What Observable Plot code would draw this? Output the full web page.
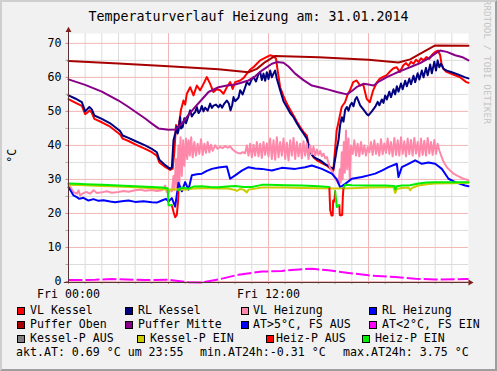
<!DOCTYPE html>
<html><head><meta charset="utf-8">
<script src="https://cdn.jsdelivr.net/npm/d3@7"></script>
<script src="https://cdn.jsdelivr.net/npm/@observablehq/plot@0.6"></script>
<style>
html,body{margin:0;padding:0;background:#f1f1f1;}
#chart{position:relative;width:497px;height:371px;background:#f1f1f1;overflow:hidden;font-family:"DejaVu Sans Mono",monospace;color:#000;}
#shade{position:absolute;left:0;top:0;width:497px;height:371px;box-sizing:border-box;border-left:2px solid #cfcfcf;border-top:2px solid #cfcfcf;border-right:2px solid #9e9e9e;border-bottom:2px solid #9e9e9e;pointer-events:none;}
.t{position:absolute;white-space:pre;line-height:1;}
#title{left:0;width:497px;text-align:center;top:10.3px;font-size:13.3px;}
#ylab{left:-7px;top:150px;width:40px;text-align:center;font-size:11.6px;transform:rotate(-90deg);}
#wm{left:417px;top:56.5px;width:140px;text-align:center;font-size:9.4px;color:#c4c4c4;transform:rotate(90deg);}
.lt{font-size:11.6px;}
.box{position:absolute;width:8px;height:8px;box-sizing:border-box;border:1px solid #000;}
#plot{position:absolute;left:0;top:0;}
</style></head>
<body>
<div id="chart">
<div id="plot"></div>
<div class="t" id="title">Temperaturverlauf Heizung am: 31.01.2014</div>
<div class="t" id="ylab">°C</div>
<div class="t" id="wm">RRDTOOL / TOBI OETIKER</div>
<div id="legend"></div>
<div id="shade"></div>
</div>
<script>
// ---- data: [hour of 31.01.2014, °C] ----
const vlKessel = [[0,53.6],[0.4,52.6],[0.8,51.6],[1.0,49.2],[1.12,49.6],[1.27,50.3],[1.4,49.6],[1.55,47.8],[2.0,46.8],[2.5,45.5],[3.0,43.6],[3.1,43.2],[3.25,42],[3.6,41.3],[4.0,40.3],[4.6,39],[5.0,38],[5.3,37],[5.45,35],[5.8,33.7],[6.1,32.8],[6.25,33.2],[6.35,38],[6.45,46],[6.55,44],[6.65,47],[6.75,50.5],[6.9,53.2],[7.0,52],[7.1,55.2],[7.3,57.1],[7.5,54.7],[7.7,57.6],[7.9,56.2],[8.1,58.1],[8.3,60.1],[8.5,58.1],[8.7,55.7],[8.9,56.5],[9.1,56.2],[9.3,55.2],[9.5,57.1],[9.7,58.6],[9.85,56.6],[10.0,58.6],[10.3,59.1],[10.5,59.8],[10.7,61.1],[10.9,62.3],[11.1,63],[11.3,64],[11.5,65],[11.7,65.5],[11.9,66],[12.1,66.5],[12.3,66.2],[12.45,65.5],[12.55,62],[12.7,57.1],[12.9,54.5],[13.1,52.3],[13.3,50.5],[13.5,48.8],[13.7,47],[13.9,45.4],[14.1,44],[14.3,42.9],[14.4,40.5],[14.5,38.5],[14.7,36.5],[14.9,35.6],[15.2,34.8],[15.5,34.1],[15.7,33.2],[15.89,32.6],[16.09,44.4],[16.25,48],[16.39,51.3],[16.59,52.7],[16.75,55],[16.89,56.2],[17.08,58.6],[17.29,59.1],[17.49,57.6],[17.68,58],[17.89,53.7],[18.08,52.7],[18.28,56.2],[18.5,58.5],[18.68,59.6],[18.9,60.2],[19.08,60.6],[19.3,61.8],[19.48,62.6],[19.68,63],[19.88,61.6],[20.08,63.5],[20.25,64.2],[20.4,63.4],[20.55,64.6],[20.7,64],[20.85,65.2],[21.0,64.5],[21.15,65.6],[21.3,65],[21.48,66],[21.65,65.4],[21.8,66.6],[21.98,67.4],[22.17,67.9],[22.3,66.5],[22.38,64],[22.5,62.5],[22.68,61.6],[23.0,61],[23.47,60.1],[23.87,58.6],[24,58.4]];

const rlKessel = [[0,54.7],[0.4,53.8],[0.8,52.7],[1.0,50.0],[1.1,50.5],[1.25,51.3],[1.4,50.6],[1.55,48.8],[2.0,47.8],[2.5,46.5],[3.0,44.6],[3.1,44.2],[3.25,42.9],[3.6,42.2],[4.0,41.3],[4.6,40.0],[5.0,39.0],[5.3,38.0],[5.45,35.8],[5.8,34.2],[6.1,33.1],[6.2,33.5],[6.3,41.5],[6.4,43.4],[6.5,45.5],[6.55,43.5],[6.6,44.4],[6.7,48.3],[6.75,45.0],[6.85,45.4],[6.95,48.0],[7.05,46.5],[7.2,48.8],[7.3,50.3],[7.4,48.5],[7.5,49.3],[7.6,49.8],[7.7,51.3],[7.8,49.5],[7.9,50.2],[8.0,51.6],[8.1,50.0],[8.2,51.1],[8.35,50.2],[8.5,52.3],[8.6,51.0],[8.7,51.7],[8.85,52.0],[9.0,51.2],[9.1,52.0],[9.22,51.1],[9.35,52.3],[9.5,53.2],[9.62,52.3],[9.72,50.3],[9.82,51.8],[9.9,54.2],[10.0,53.0],[10.2,54.0],[10.3,56.2],[10.45,55.0],[10.6,57.1],[10.7,58.6],[10.85,57.8],[11.0,59.5],[11.1,60.1],[11.25,58.8],[11.4,61.0],[11.5,61.6],[11.6,59.2],[11.7,61.1],[11.8,59.0],[11.9,61.5],[12.0,59.5],[12.1,62.0],[12.2,60.0],[12.3,61.1],[12.4,62.0],[12.5,59.6],[12.7,56.2],[12.9,53.0],[13.1,51.3],[13.3,49.5],[13.5,48.3],[13.7,46.5],[13.9,44.9],[14.1,43.5],[14.3,42.0],[14.45,39.0],[14.6,37.2],[14.8,36.3],[15.1,35.6],[15.4,34.5],[15.7,33.6],[15.9,33.1],[16.0,36.0],[16.1,39.0],[16.2,41.5],[16.3,46.0],[16.4,48.3],[16.5,47.0],[16.6,50.5],[16.7,51.3],[16.8,50.2],[16.9,51.8],[17.0,52.5],[17.1,51.5],[17.2,53.5],[17.3,54.2],[17.4,53.0],[17.5,51.8],[17.7,50.5],[17.9,49.2],[18.0,48.8],[18.2,50.0],[18.4,51.3],[18.55,52.8],[18.65,51.8],[18.8,53.5],[18.9,52.5],[19.0,54.7],[19.1,53.5],[19.25,55.8],[19.35,54.2],[19.5,56.5],[19.6,55.0],[19.7,57.4],[19.8,55.8],[19.95,58.2],[20.05,56.5],[20.2,59.0],[20.3,57.4],[20.45,59.6],[20.55,58.0],[20.7,60.5],[20.8,58.6],[20.95,61.2],[21.05,59.4],[21.2,62.0],[21.3,60.0],[21.45,62.8],[21.55,60.6],[21.7,63.8],[21.8,61.2],[21.95,64.6],[22.05,62.0],[22.15,65.0],[22.25,63.0],[22.35,64.0],[22.5,62.5],[22.7,62.0],[23.0,61.5],[23.4,60.8],[23.8,60.0],[24,59.7]];

const vlHeizung = [[0,28.7],[0.15,27.5],[0.3,26.3],[0.5,25.8],[0.6,26.8],[0.7,25.3],[0.9,26],[1.1,26.3],[1.3,25.8],[1.5,26.8],[1.7,26],[2.0,26.2],[2.3,26.5],[2.6,26.1],[3.0,26.3],[3.3,26.6],[3.6,26.4],[4.0,26.8],[4.3,27],[4.6,26.7],[5.0,26.9],[5.3,26.6],[5.6,26.8],[5.8,28.2],[5.9,26.3],[6.0,26],[6.1,27],[6.2,26.5],[6.3,31],[6.35,26.8],[6.45,36],[6.5,27.5],[6.6,40],[6.65,28],[6.72,42.4],[6.8,31],[6.88,41.5],[6.95,34],[7.05,42],[7.12,36],[7.2,41.5],[7.28,37],[7.36,42.4],[7.45,36.5],[7.55,41],[7.65,37],[7.75,40.5],[7.85,37.5],[7.95,41.8],[8.05,37.2],[8.15,40.5],[8.25,37.8],[8.35,41],[8.45,38],[8.55,40.2],[8.65,38.4],[8.8,40],[8.95,39],[9.1,39.6],[9.25,39.2],[9.4,39.8],[9.55,39.3],[9.7,39.7],[9.85,38.8],[10.0,38.2],[10.15,37.8],[10.3,37.6],[10.45,38],[10.6,37.7],[10.7,40],[10.8,37],[10.9,40.5],[11.0,36.5],[11.1,40.2],[11.2,37],[11.3,41],[11.4,36.8],[11.5,40.5],[11.6,36.3],[11.7,41],[11.8,37.2],[11.9,40.6],[12.0,36.8],[12.1,42],[12.2,36],[12.3,41.5],[12.4,35.8],[12.5,42.4],[12.6,36.5],[12.7,41],[12.8,37],[12.9,42],[13.0,36],[13.1,40.8],[13.2,35.6],[13.3,41.5],[13.4,37],[13.5,42.2],[13.6,36],[13.7,41],[13.8,36.8],[13.9,40.5],[14.0,36.2],[14.1,41.2],[14.2,37],[14.3,40.6],[14.4,36],[14.5,40],[14.6,37.4],[14.7,39.6],[14.8,37],[14.9,38.8],[15.0,37.2],[15.1,38.4],[15.2,36.8],[15.3,37.6],[15.4,36.2],[15.5,36.6],[15.6,34.8],[15.7,33.4],[15.8,32.5],[15.9,31.5],[16.0,30.2],[16.1,29.5],[16.2,28.7],[16.28,33],[16.33,29],[16.4,38],[16.45,30],[16.52,41],[16.58,32],[16.65,44.4],[16.72,33],[16.8,42],[16.88,29.7],[16.95,40],[17.05,37.5],[17.15,41.5],[17.25,37],[17.35,40.5],[17.45,36.8],[17.55,41],[17.65,37.5],[17.75,40],[17.85,37],[17.95,39.5],[18.05,38],[18.15,41],[18.25,37.2],[18.35,41.5],[18.45,37.5],[18.55,40.5],[18.65,37],[18.75,41.8],[18.85,37.4],[18.95,40.6],[19.05,37.8],[19.15,42],[19.25,37.5],[19.35,41],[19.45,36.8],[19.55,42.2],[19.65,37.2],[19.75,41.5],[19.85,37],[19.95,42.4],[20.05,37.5],[20.15,41.2],[20.25,36.8],[20.35,42],[20.45,37.4],[20.55,41.6],[20.65,37],[20.75,42.2],[20.85,37.6],[20.95,41],[21.05,36.8],[21.15,42],[21.25,37.2],[21.35,41.4],[21.45,37],[21.55,42.2],[21.65,37.6],[21.75,41],[21.85,37.2],[21.95,41.6],[22.05,37.5],[22.15,40.5],[22.25,38.5],[22.4,36.5],[22.5,35.2],[22.7,33.6],[22.9,32.6],[23.1,31.7],[23.4,30.9],[23.7,30.2],[24,29.8]];

const rlHeizung = [[0,27.7],[0.15,26.5],[0.3,25.3],[0.5,24.8],[0.65,24.3],[0.9,24.6],[1.2,23.8],[1.5,24.2],[1.8,23.7],[2.1,23.9],[2.5,23.5],[2.8,23.3],[3.2,23.6],[3.6,23.8],[4.0,23.4],[4.5,23.6],[5.0,23.3],[5.3,23.2],[5.6,23.8],[5.85,24.3],[6.0,23.5],[6.2,24.5],[6.4,22],[6.6,29],[6.8,26.5],[7.0,29.2],[7.2,27],[7.4,31.2],[7.7,31.5],[8.0,31.7],[8.3,32.5],[8.6,33.1],[9.0,33.5],[9.5,33.8],[9.7,30.2],[10.0,31.2],[10.4,32.6],[10.8,33.6],[11.2,33.2],[11.6,33.1],[12.2,32.6],[12.8,33.4],[13.6,33.1],[14.2,33.6],[14.6,34.1],[15.2,33.1],[15.8,31.7],[16.1,30],[16.3,27.7],[16.6,28.7],[17.0,30.2],[17.6,30.7],[18.0,31.2],[18.4,31.7],[18.8,32.6],[19.2,33.6],[19.7,34.6],[19.8,30.7],[20.0,33.6],[20.4,34.6],[20.8,35.6],[21.2,34.6],[21.6,35],[22.0,34.6],[22.4,33.1],[22.8,30.2],[23.2,29.2],[23.5,28.7],[23.8,28.2],[24,28.0]];

const pufferOben = [[0,64.8],[3,64.1],[6,63.3],[9,62.4],[10.8,61.5],[11.3,62.5],[11.8,64.5],[12.4,66.3],[15,65.9],[18,65.2],[19.8,64.4],[20.5,65.3],[21.3,67.5],[22,69.4],[24,69.3]];

const pufferMitte = [[0,59.4],[1,57.8],[2,55.8],[3,53.2],[3.6,51.3],[4.6,47.9],[5.0,46.4],[5.4,45.0],[6.0,44.6],[6.4,44.7],[6.8,46.4],[7.2,49],[7.6,51.3],[8.0,53.5],[8.4,55.7],[9.0,57.1],[9.5,57.6],[10.0,57.9],[10.8,59.1],[11.2,60.3],[11.6,62],[12.2,64],[12.5,64.5],[12.9,64.3],[13.2,63.2],[13.6,61.1],[14.1,59.2],[14.6,57.6],[15.1,57],[15.6,56.4],[16.1,55.7],[16.7,55],[17.0,56],[17.3,57.2],[17.7,58.1],[18.0,57.9],[18.3,57.6],[18.7,59],[19.1,60.1],[19.6,61.2],[20.1,62.2],[20.6,63.2],[21.1,64.2],[21.6,65.6],[22.0,67],[22.3,67.9],[22.7,67.5],[23.2,66.5],[23.6,66],[24,65]];

const atFsEin = [[0,0.4],[1.6,0.5],[2.6,0.7],[4.6,0.4],[6,0.5],[7.2,-0.2],[8,-0.3],[9,0.6],[10.2,2.0],[11.6,2.9],[12.8,3.1],[13.4,3.4],[14.6,3.75],[15.6,3.3],[16.8,2.5],[18,1.8],[19.6,1.3],[20.8,0.8],[22,0.6],[23.9,0.7],[24,0.7]];

const kesselPEin = [[0,28.4],[1,28.3],[2,28.1],[3,27.9],[4,27.7],[5,27.4],[5.5,27.2],[6,27.0],[6.5,27.1],[7,27.0],[7.5,27.3],[8,27.4],[8.5,27.4],[9,27.3],[9.5,27.4],[10,26.9],[10.1,26.6],[10.3,27.2],[10.5,27.0],[10.7,26.2],[10.8,27],[11.2,27.3],[11.6,27.6],[12,27.6],[13,27.6],[14,27.5],[15,27.4],[16,27.3],[17,27.4],[18,27.6],[19,27.7],[19.5,27.7],[19.6,26.0],[19.7,27.2],[20,27.5],[20.4,27.6],[20.5,26.8],[20.6,27.5],[21,28.2],[21.5,28.6],[22,28.8],[23,28.9],[24,29.0]];

const heizPAus = [[6.2,22.4],[6.3,20.5],[6.4,18.9],[6.5,19.6],[6.58,24],[6.6,26.8],[6.61,null],[15.65,27.8],[15.7,21],[15.78,19.4],[15.85,19.4],[15.88,23.8],[15.95,23.5],[16.0,26.5],[16.01,null],[16.25,22.5],[16.28,19.5],[16.35,19.4],[16.42,19.6],[16.46,25],[16.5,27.5]];

const heizPEin = [[0,28.8],[0.5,28.7],[1,28.6],[2,28.4],[3,28.2],[4,28.0],[5,27.8],[5.6,27.6],[5.95,27.4],[6.0,22.4],[6.2,22.4],[6.4,null],[6.6,26.8],[6.8,27.6],[7.2,27.3],[7.5,27.9],[8,28.0],[8.5,27.8],[9,27.7],[9.5,27.9],[10,28.1],[10.5,27.8],[11,27.8],[11.6,28.4],[12,28.4],[13,28.3],[14,28.2],[15,28.0],[15.65,27.8],[15.8,null],[16.0,26.5],[16.1,21.9],[16.25,22.5],[16.4,null],[16.5,27.5],[16.6,28.4],[17,28.3],[18,28.2],[19,28.2],[19.55,28.1],[19.62,27.0],[19.7,28.0],[20,28.2],[20.5,28.3],[21,28.8],[21.5,29.1],[22,29.2],[23,29.2],[24,29.2]];

// legend
const legendLabels = ["VL Kessel","RL Kessel","VL Heizung","RL Heizung","Puffer Oben","Puffer Mitte","AT>5°C, FS AUS","AT<2°C, FS EIN","Kessel-P AUS","Kessel-P EIN","Heiz-P AUS","Heiz-P EIN"];
const legendColors = ["#ff0000","#000080","#ff88aa","#0000ff","#a80000","#880088","#0000ff","#ff00ff","#808080","#cccc00","#ff0000","#00ee00"];
const statsLine = ["akt.AT: 0.69 °C um 23:55","min.AT24h:-0.31 °C","max.AT24h: 3.75 °C"];

// axes
const xTicks = [0, 12];
const xTickLabels = ["Fri 00:00", "Fri 12:00"];
const yTicks = [0,10,20,30,40,50,60,70];

// ---- drawing ----
const xDomain = [0, 24], yDomain = [-0.3, 72.9];
const minorH = d3.range(1, 24).filter(h => h % 6 !== 0);
const majorH = [6, 12, 18];
const minorY = d3.range(5, 72, 10);
const majorY = d3.range(0, 71, 10);
const gridMinor = "#dcdcdc", gridMajor = "#f2b6b6", axisCol = "#5a3434", arrowCol = "#801f1f";

const ln = (data, color, extra = {}) => Plot.line(data, {x: d => d[0], y: d => d[1], stroke: color, strokeWidth: 2, ...extra});

const plot = Plot.plot({
  width: 497, height: 310,
  marginLeft: 68, marginRight: 29, marginTop: 33, marginBottom: 28,
  style: {background: "transparent", fontFamily: "DejaVu Sans Mono, monospace", fontSize: "11.6px", color: "#000", overflow: "visible"},
  x: {domain: xDomain},
  y: {domain: yDomain},
  marks: [
    Plot.frame({fill: "white", stroke: null}),
    Plot.ruleX(minorH, {stroke: gridMinor}),
    Plot.ruleY(minorY, {stroke: gridMinor}),
    Plot.ruleX(majorH, {stroke: gridMajor}),
    Plot.ruleY(majorY, {stroke: gridMajor}),
    Plot.ruleY(minorY, {x1: -0.15, x2: 0, stroke: "#aaa"}),
    Plot.ruleY(majorY, {x1: -0.15, x2: 0, stroke: "#d08080"}),
    Plot.ruleX(minorH, {y1: yDomain[0] - 0.6, y2: yDomain[0], stroke: "#aaa"}),
    Plot.ruleX(majorH.concat([0]), {y1: yDomain[0] - 0.6, y2: yDomain[0], stroke: "#d08080"}),
    ln(vlKessel, legendColors[0]),
    ln(rlKessel, legendColors[1]),
    ln(vlHeizung, legendColors[2]),
    ln(rlHeizung, legendColors[3]),
    ln(pufferOben, legendColors[4]),
    ln(pufferMitte, legendColors[5]),
    ln(atFsEin, legendColors[7], {strokeDasharray: "14,3", strokeLinecap: "butt"}),
    ln(kesselPEin, legendColors[9]),
    ln(heizPAus, legendColors[10]),
    ln(heizPEin, legendColors[11]),
    Plot.ruleX([xDomain[0]], {y1: yDomain[0], y2: yDomain[1] + 0.6, stroke: axisCol}),
    Plot.ruleY([yDomain[0]], {x1: xDomain[0] - 0.25, x2: xDomain[1] + 0.05, stroke: axisCol}),
    Plot.dot([[xDomain[0], yDomain[1] + 0.95]], {x: d => d[0], y: d => d[1], symbol: "triangle", r: 2.2, fill: arrowCol, stroke: null}),
    Plot.dot([[xDomain[1] + 0.1, yDomain[0]]], {x: d => d[0], y: d => d[1], symbol: "triangle", r: 2.2, fill: arrowCol, stroke: null, rotate: 90}),
    Plot.axisY({ticks: yTicks, tickSize: 0, tickPadding: 7, label: null, fill: "#000"}),
    Plot.axisX({ticks: xTicks, tickFormat: d => xTickLabels[xTicks.indexOf(d)], tickSize: 0, tickPadding: 7, label: null, fill: "#000"})
  ]
});
document.getElementById("plot").appendChild(plot);

// legend layout
const leg = document.getElementById("legend");
const rowBase = [315, 329, 343, 357];
const boxX = [[17,125,240.5,369],[17,125,240.5,369],[17,137,265.5,362]];
const textX = [[30,138,253,382],[30,138,253,382],[30,150,276,375]];
legendLabels.forEach((lab, i) => {
  const r = Math.floor(i / 4), c = i % 4;
  const b = document.createElement("div");
  b.className = "box";
  b.style.left = boxX[r][c] + "px";
  b.style.top = (rowBase[r] - 7.7) + "px";
  b.style.background = legendColors[i];
  leg.appendChild(b);
  const t = document.createElement("div");
  t.className = "t lt";
  t.textContent = lab;
  t.style.left = textX[r][c] + "px";
  t.style.top = (rowBase[r] - 9.8) + "px";
  leg.appendChild(t);
});
const statX = [16, 200, 343];
statsLine.forEach((s, i) => {
  const t = document.createElement("div");
  t.className = "t lt";
  t.textContent = s;
  t.style.left = statX[i] + "px";
  t.style.top = (rowBase[3] - 9.8) + "px";
  leg.appendChild(t);
});
</script>
</body></html>
